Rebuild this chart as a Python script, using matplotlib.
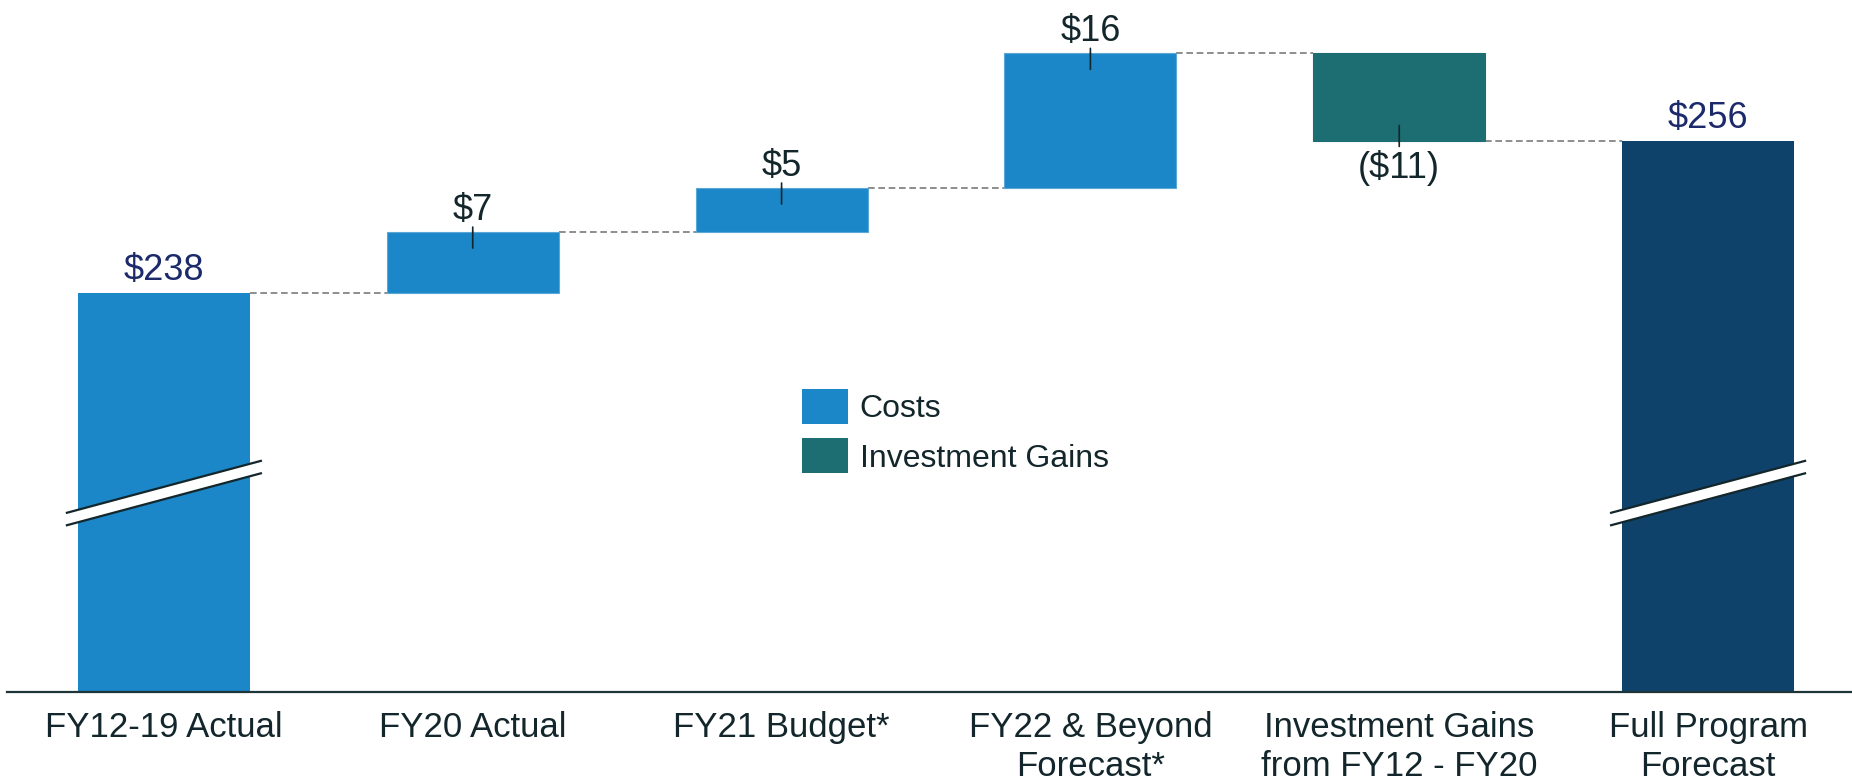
import matplotlib
matplotlib.use("Agg")
import matplotlib.pyplot as plt
from matplotlib.patches import Patch, Polygon
from matplotlib.lines import Line2D
import matplotlib.transforms as mtransforms
import numpy as np

plt.rcParams['font.family'] = ['Liberation Sans', 'DejaVu Sans']

# ---- data ----
categories = ["FY12-19 Actual", "FY20 Actual", "FY21 Budget*",
              "FY22 & Beyond\nForecast*", "Investment Gains\nfrom FY12 - FY20",
              "Full Program\nForecast"]
start_value = 238.3
changes = [7.2, 5.2, 15.9, -10.4]
change_kind = ["Costs", "Costs", "Costs", "Investment Gains"]
value_labels = ["$238", "$7", "$5", "$16", "($11)", "$256"]

COL_COST = "#1b87c8"
COL_GAIN = "#1c6e72"
COL_TOTAL = "#0f426b"
TXT_DARK = "#13262b"
TXT_NAVY = "#1c2a6b"

end_value = start_value + sum(changes)

fig = plt.figure(figsize=(18.52, 7.81), dpi=100)
ax = fig.add_axes([7 / 1852, 89 / 781, 1 - 7 / 1852, 1 - 89 / 781])
ax.set_xlim(-0.508, 5.466)
ax.set_ylim(191.2, 272.9)

width = 0.557
x = np.arange(len(categories))

# first total bar
ax.bar(x[0], start_value, width=width, color=COL_COST, zorder=2)
# floating bars
level = start_value
levels = [start_value]
for i, (c, k) in enumerate(zip(changes, change_kind), start=1):
    col = COL_COST if k == "Costs" else COL_GAIN
    ax.bar(x[i], c, bottom=level, width=width, color=col, zorder=2,
           edgecolor="#5aa7d8" if k == "Costs" else col, linewidth=0.8)
    level += c
    levels.append(level)
# final total
ax.bar(x[-1], end_value, width=width, color=COL_TOTAL, zorder=2)

# connectors
for i in range(len(categories) - 1):
    ax.plot([x[i] + width / 2, x[i + 1] - width / 2], [levels[i], levels[i]],
            linestyle=(0, (4, 2.2)), color="#7a7a7a", linewidth=1.2, zorder=1)

LABEL_FS = 26

# labels for totals
for xi, val, lab in [(x[0], start_value, value_labels[0]), (x[-1], end_value, value_labels[-1])]:
    ax.annotate(lab, (xi, val), xytext=(0, 13), textcoords="offset pixels",
                ha="center", va="baseline", fontsize=LABEL_FS, color=TXT_NAVY)

# labels for changes with leader ticks
prev = start_value
for i, c in enumerate(changes, start=1):
    top = prev + c
    if c >= 0:
        ax.annotate(value_labels[i], (x[i], top), xytext=(0, 12), textcoords="offset pixels",
                    ha="center", va="baseline", fontsize=LABEL_FS, color=TXT_DARK)
        ax.annotate("", (x[i], top), xytext=(0, 5), textcoords="offset pixels",
                    arrowprops=dict(arrowstyle="-", color=TXT_DARK, lw=1.2,
                                    shrinkA=0, shrinkB=0))
        ax.annotate("", (x[i], top), xytext=(0, -16), textcoords="offset pixels",
                    arrowprops=dict(arrowstyle="-", color=TXT_DARK, lw=1.2,
                                    shrinkA=0, shrinkB=0))
    else:
        ax.annotate(value_labels[i], (x[i], top), xytext=(0, -9), textcoords="offset pixels",
                    ha="center", va="top", fontsize=LABEL_FS, color=TXT_DARK)
        ax.annotate("", (x[i], top), xytext=(0, 16), textcoords="offset pixels",
                    arrowprops=dict(arrowstyle="-", color=TXT_DARK, lw=1.2,
                                    shrinkA=0, shrinkB=0))
        ax.annotate("", (x[i], top), xytext=(0, -5), textcoords="offset pixels",
                    arrowprops=dict(arrowstyle="-", color=TXT_DARK, lw=1.2,
                                    shrinkA=0, shrinkB=0))
    prev = top

# axis break markers on total bars
trans = mtransforms.blended_transform_factory(ax.transData, ax.transAxes)
for xi in (x[0], x[-1]):
    x0, x1 = xi - 0.314, xi + 0.314
    yl0, yl1 = 0.241, 0.316   # lower line (left, right)
    yu0, yu1 = 0.259, 0.334   # upper line (left, right)
    poly = Polygon([[x0, yl0], [x1, yl1], [x1, yu1], [x0, yu0]], closed=True,
                   facecolor="white", edgecolor="none", transform=trans, zorder=3)
    ax.add_patch(poly)
    ax.add_line(Line2D([x0, x1], [yl0, yl1], color="#13262b", lw=1.6, transform=trans, zorder=4))
    ax.add_line(Line2D([x0, x1], [yu0, yu1], color="#13262b", lw=1.6, transform=trans, zorder=4))

# axes styling
for s in ("top", "right", "left"):
    ax.spines[s].set_visible(False)
ax.spines["bottom"].set_color("#1d3438")
ax.spines["bottom"].set_linewidth(1.6)
ax.set_yticks([])
ax.set_xticks(x)
ax.set_xticklabels(categories, fontsize=25, color=TXT_DARK, linespacing=1.23)
ax.tick_params(axis="x", length=0, pad=14)

# legend
handles = [Patch(facecolor=COL_COST, edgecolor="none", label="Costs"),
           Patch(facecolor=COL_GAIN, edgecolor="none", label="Investment Gains")]
fig.legend(handles=handles, loc="upper left", bbox_to_anchor=(802 / 1852, 1 - 389 / 781),
           frameon=False, fontsize=23, handlelength=1.45, handleheight=1.3,
           handletextpad=0.36, labelspacing=0.45, borderpad=0, borderaxespad=0,
           labelcolor=TXT_DARK)

fig.savefig("out.png", dpi=100)
